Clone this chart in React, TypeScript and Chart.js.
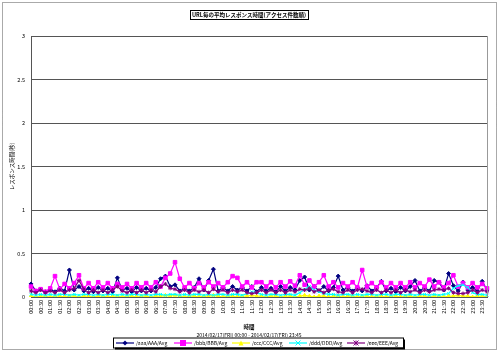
import React, { useEffect, useRef } from "react";
import { Chart, registerables } from "chart.js";

Chart.register(...registerables);

const TITLE = "URL毎の平均レスポンス時間(アクセス件数順)";
const Y_TITLE = "レスポンス時間(秒)";
const X_TITLE = "時間";
const SUBTITLE = "2014/02/17(FRI) 00:00 - 2014/02/17(FRI) 23:45";

const HOURS = ["00","01","02","03","04","05","06","07","08","09","10","11","12","13","14","15","16","17","18","19","20","21","22","23"];
const MINUTES = ["00", "15", "30", "45"];
const TIMES: string[] = HOURS.flatMap((h) => MINUTES.map((m) => h + ":" + m));

const SERIES_NAMES = ["/aaa/AAA/Avg", "/bbb/BBB/Avg", "/ccc/CCC/Avg", "/ddd/DDD/Avg", "/eee/EEE/Avg"];
const SERIES_COLORS = ["#000080", "#FF00FF", "#FFFF00", "#00FFFF", "#800080"];

const AAA = [
  0.15, 0.07, 0.09, 0.06, 0.09, 0.06, 0.10, 0.07, 0.31, 0.08, 0.12, 0.07,
  0.10, 0.06, 0.11, 0.07, 0.10, 0.06, 0.22, 0.08, 0.10, 0.06, 0.11, 0.07,
  0.10, 0.07, 0.11, 0.21, 0.24, 0.12, 0.14, 0.07, 0.10, 0.07, 0.11, 0.21,
  0.08, 0.19, 0.32, 0.07, 0.11, 0.07, 0.12, 0.08, 0.11, 0.07, 0.12, 0.06,
  0.11, 0.07, 0.10, 0.06, 0.12, 0.07, 0.11, 0.08, 0.19, 0.23, 0.08, 0.12,
  0.07, 0.12, 0.07, 0.11, 0.24, 0.08, 0.11, 0.07, 0.11, 0.07, 0.13, 0.07,
  0.11, 0.18, 0.07, 0.10, 0.06, 0.11, 0.07, 0.12, 0.19, 0.07, 0.11, 0.07,
  0.19, 0.17, 0.08, 0.27, 0.13, 0.07, 0.17, 0.08, 0.11, 0.07, 0.18, 0.08,
];
const BBB = [
  0.12, 0.07, 0.09, 0.06, 0.10, 0.24, 0.09, 0.15, 0.10, 0.16, 0.25, 0.10,
  0.16, 0.10, 0.17, 0.11, 0.16, 0.10, 0.15, 0.11, 0.15, 0.10, 0.16, 0.11,
  0.16, 0.11, 0.17, 0.12, 0.22, 0.27, 0.40, 0.21, 0.11, 0.16, 0.10, 0.16,
  0.11, 0.17, 0.12, 0.16, 0.11, 0.17, 0.24, 0.22, 0.12, 0.17, 0.11, 0.17,
  0.17, 0.12, 0.17, 0.11, 0.17, 0.12, 0.18, 0.13, 0.25, 0.14, 0.19, 0.12,
  0.17, 0.25, 0.12, 0.17, 0.11, 0.16, 0.12, 0.17, 0.11, 0.31, 0.12, 0.16,
  0.11, 0.17, 0.11, 0.16, 0.11, 0.16, 0.11, 0.17, 0.11, 0.16, 0.12, 0.20,
  0.12, 0.17, 0.11, 0.16, 0.25, 0.12, 0.16, 0.11, 0.16, 0.11, 0.15, 0.10,
];
const CCC = [
  0.01, 0.00, 0.01, 0.01, 0.00, 0.01, 0.01, 0.00, 0.01, 0.01, 0.00, 0.01,
  0.01, 0.00, 0.01, 0.01, 0.00, 0.01, 0.01, 0.00, 0.01, 0.01, 0.00, 0.01,
  0.01, 0.00, 0.01, 0.01, 0.02, 0.01, 0.02, 0.01, 0.00, 0.01, 0.01, 0.00,
  0.01, 0.01, 0.02, 0.01, 0.00, 0.01, 0.01, 0.00, 0.01, 0.01, 0.02, 0.01,
  0.01, 0.00, 0.01, 0.01, 0.00, 0.01, 0.01, 0.00, 0.01, 0.02, 0.01, 0.00,
  0.01, 0.01, 0.00, 0.01, 0.01, 0.00, 0.01, 0.01, 0.00, 0.01, 0.01, 0.00,
  0.01, 0.01, 0.00, 0.01, 0.01, 0.00, 0.01, 0.01, 0.00, 0.01, 0.01, 0.00,
  0.01, 0.01, 0.00, 0.01, 0.01, 0.02, 0.01, 0.01, 0.00, 0.01, 0.01, 0.00,
];
const DDD = [
  0.03, 0.02, 0.03, 0.02, 0.03, 0.02, 0.03, 0.03, 0.02, 0.03, 0.02, 0.03,
  0.03, 0.02, 0.03, 0.02, 0.03, 0.03, 0.02, 0.03, 0.02, 0.03, 0.03, 0.02,
  0.03, 0.02, 0.03, 0.03, 0.02, 0.03, 0.03, 0.02, 0.03, 0.02, 0.03, 0.03,
  0.02, 0.03, 0.02, 0.03, 0.03, 0.02, 0.03, 0.03, 0.02, 0.04, 0.06, 0.05,
  0.03, 0.02, 0.03, 0.03, 0.02, 0.03, 0.03, 0.02, 0.05, 0.09, 0.12, 0.08,
  0.06, 0.04, 0.03, 0.03, 0.02, 0.03, 0.03, 0.02, 0.03, 0.02, 0.03, 0.03,
  0.02, 0.03, 0.03, 0.02, 0.03, 0.03, 0.02, 0.03, 0.02, 0.03, 0.03, 0.02,
  0.03, 0.02, 0.03, 0.04, 0.10, 0.13, 0.14, 0.11, 0.05, 0.03, 0.03, 0.02,
];
const EEE = [
  0.07, 0.05, 0.08, 0.05, 0.07, 0.05, 0.08, 0.05, 0.08, 0.10, 0.19, 0.09,
  0.05, 0.08, 0.05, 0.08, 0.05, 0.08, 0.12, 0.07, 0.05, 0.08, 0.05, 0.08,
  0.05, 0.08, 0.06, 0.12, 0.15, 0.10, 0.09, 0.06, 0.08, 0.05, 0.08, 0.06,
  0.08, 0.05, 0.09, 0.06, 0.08, 0.05, 0.08, 0.06, 0.08, 0.05, 0.04, 0.05,
  0.08, 0.05, 0.08, 0.05, 0.08, 0.05, 0.08, 0.06, 0.09, 0.08, 0.10, 0.06,
  0.08, 0.05, 0.08, 0.09, 0.06, 0.05, 0.08, 0.05, 0.08, 0.09, 0.07, 0.05,
  0.08, 0.05, 0.08, 0.05, 0.08, 0.05, 0.08, 0.06, 0.08, 0.05, 0.08, 0.06,
  0.08, 0.09, 0.08, 0.10, 0.05, 0.04, 0.04, 0.05, 0.08, 0.05, 0.08, 0.06,
];

const SERIES_DATA = [AAA, BBB, CCC, DDD, EEE];
const POINT_STYLES = ["rectRot", "rect", "triangle", "crossRot", "star"];
const POINT_RADII = [2, 2.5, 2, 2, 2];

const FONT = '"Noto Sans CJK JP", "DejaVu Sans", sans-serif';

function drawMarker(ctx: CanvasRenderingContext2D, style: string, x: number, y: number, r: number, color: string) {
  ctx.save();
  ctx.fillStyle = color;
  ctx.strokeStyle = color;
  ctx.lineWidth = 1;
  ctx.beginPath();
  if (style === "rect") {
    ctx.fillRect(x - r, y - r, 2 * r, 2 * r);
  } else if (style === "rectRot") {
    ctx.moveTo(x, y - r);
    ctx.lineTo(x + r, y);
    ctx.lineTo(x, y + r);
    ctx.lineTo(x - r, y);
    ctx.closePath();
    ctx.fill();
  } else if (style === "triangle") {
    ctx.moveTo(x, y - r);
    ctx.lineTo(x + r, y + r);
    ctx.lineTo(x - r, y + r);
    ctx.closePath();
    ctx.fill();
  } else {
    ctx.moveTo(x - r, y - r);
    ctx.lineTo(x + r, y + r);
    ctx.moveTo(x + r, y - r);
    ctx.lineTo(x - r, y + r);
    if (style === "star") {
      ctx.moveTo(x, y - r);
      ctx.lineTo(x, y + r);
    }
    ctx.stroke();
  }
  ctx.restore();
}

const decorPlugin = {
  id: "decor",
  afterDraw(chart: any) {
    const ctx = chart.ctx as CanvasRenderingContext2D;
    const ca = chart.chartArea;
    ctx.save();
    // outer dotted frame
    ctx.strokeStyle = "#555";
    ctx.lineWidth = 1;
    ctx.setLineDash([1, 1]);
    ctx.strokeRect(2.5, 2.5, 494, 347);
    ctx.setLineDash([]);

    // plot right border
    ctx.strokeStyle = "#999";
    ctx.beginPath();
    ctx.moveTo(Math.round(ca.right) + 0.5, ca.top);
    ctx.lineTo(Math.round(ca.right) + 0.5, ca.bottom);
    ctx.stroke();

    // title with box
    ctx.fillStyle = "#000";
    ctx.font = "bold 5.5px " + FONT;
    ctx.textAlign = "center";
    ctx.textBaseline = "middle";
    const tw = ctx.measureText(TITLE).width;
    ctx.fillText(TITLE, 249, 14.5);
    ctx.strokeStyle = "#000";
    ctx.strokeRect(Math.round(249 - tw / 2 - 2) + 0.5, 10.5, Math.round(tw + 4), 9);

    // y title
    ctx.save();
    ctx.translate(12, (ca.top + ca.bottom) / 2);
    ctx.rotate(-Math.PI / 2);
    ctx.font = "5.5px " + FONT;
    ctx.fillText(Y_TITLE, 0, 0);
    ctx.restore();

    // x title + subtitle
    ctx.font = "bold 5.5px " + FONT;
    ctx.fillText(X_TITLE, 249, 327);
    ctx.font = "5px " + FONT;
    ctx.fillText(SUBTITLE, 249, 335);

    // legend
    const lx = 113, ly = 337.5, lw = 290, lh = 10;
    ctx.fillStyle = "#000";
    ctx.fillRect(lx + 2, ly + 2, lw, lh);
    ctx.fillStyle = "#fff";
    ctx.fillRect(lx, ly, lw, lh);
    ctx.strokeStyle = "#000";
    ctx.strokeRect(lx + 0.5, ly + 0.5, lw, lh);
    const starts = [116, 174, 232, 289, 347];
    ctx.font = "5px " + FONT;
    ctx.textAlign = "left";
    SERIES_NAMES.forEach((name, i) => {
      const x0 = starts[i];
      const cy = ly + lh / 2 + 0.5;
      ctx.strokeStyle = SERIES_COLORS[i];
      ctx.lineWidth = 1.2;
      ctx.beginPath();
      ctx.moveTo(x0, cy);
      ctx.lineTo(x0 + 18, cy);
      ctx.stroke();
      drawMarker(ctx, POINT_STYLES[i], x0 + 9, cy, POINT_RADII[i] + 0.5, SERIES_COLORS[i]);
      ctx.fillStyle = "#000";
      ctx.fillText(name, x0 + 20, cy);
    });
    ctx.restore();
  },
};

export default function App() {
  const ref = useRef<HTMLCanvasElement | null>(null);
  useEffect(() => {
    if (!ref.current) return;
    const chart = new Chart(ref.current, {
      type: "line",
      data: {
        labels: TIMES,
        datasets: SERIES_NAMES.map((name, i) => ({
          label: name,
          data: SERIES_DATA[i],
          borderColor: SERIES_COLORS[i],
          backgroundColor: SERIES_COLORS[i],
          borderWidth: 1.2,
          pointStyle: POINT_STYLES[i] as any,
          pointRadius: POINT_RADII[i],
          pointBorderWidth: 1,
          tension: 0,
          order: 5 - i,
        })),
      },
      options: {
        animation: false,
        responsive: false,
        devicePixelRatio: 1,
        layout: { padding: { left: 0, top: 36, right: 13, bottom: 34 } },
        plugins: {
          legend: { display: false },
          title: { display: false },
          tooltip: { enabled: false },
        },
        scales: {
          x: {
            type: "category",
            offset: false,
            grid: { display: false, drawTicks: false },
            border: { display: true, color: "#555" },
            ticks: {
              autoSkip: false,
              maxRotation: 90,
              minRotation: 90,
              padding: 3,
              color: "#000",
              font: { size: 5.5, family: FONT },
              callback: (_v: any, i: number) => (i % 2 === 0 ? TIMES[i] : ""),
            },
            afterFit: (s: any) => {
              s.height = 22;
            },
          },
          y: {
            min: 0,
            max: 3,
            grid: { color: "#555", lineWidth: 1, drawTicks: false },
            border: { display: true, color: "#555" },
            ticks: {
              stepSize: 0.5,
              padding: 6,
              color: "#000",
              font: { size: 5.5, family: FONT },
              callback: (v: any) => String(Number(v)),
            },
            afterFit: (s: any) => {
              s.width = 31;
            },
          },
        },
      },
      plugins: [decorPlugin],
    });
    return () => chart.destroy();
  }, []);
  return (
    <div style={{ position: "fixed", left: 0, top: 0, width: 500, height: 353, background: "#fff" }}>
      <canvas ref={ref} width={500} height={353} style={{ width: 500, height: 353, display: "block" }} />
    </div>
  );
}
